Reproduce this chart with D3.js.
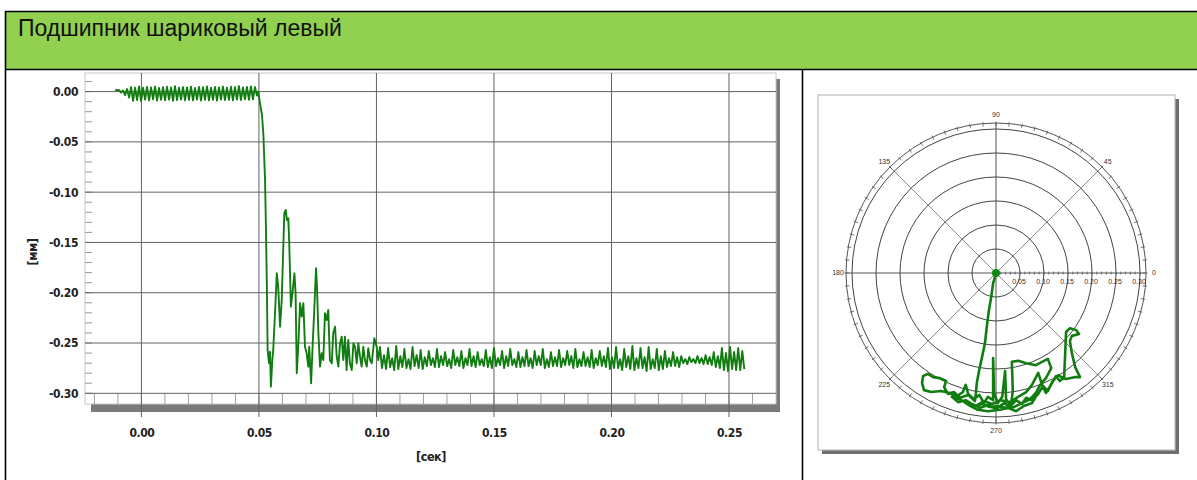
<!DOCTYPE html>
<html>
<head>
<meta charset="utf-8">
<script src="https://cdn.jsdelivr.net/npm/d3@7"></script>
<style>
  body { margin: 0; background: #fff; }
  svg { display: block; }
  .narrow { font-family: "Liberation Sans Narrow", "DejaVu Sans Condensed", "Liberation Sans", sans-serif; font-weight: bold; fill: #222; letter-spacing: -0.4px; }
</style>
</head>
<body>
<svg id="chart" width="1197" height="480"></svg>
<script>
// ---- Title ----
const titleText = "Подшипник шариковый левый";

// ---- Time-domain plot: displacement [мм] vs time [сек] ----
const xTickValues = [0, 0.05, 0.10, 0.15, 0.20, 0.25];
const yTickValues = [0, -0.05, -0.10, -0.15, -0.20, -0.25, -0.30];
const xAxisTitle = "[сек]";
const yAxisTitle = "[мм]";

// idle ripple before the drop (uniform step)
const rippleStart = -0.0112;
const rippleStep = 0.00085;
const rippleValues = [
  0.0020, 0.0012, 0.0016, -0.0010, 0.0012, -0.0035, 0.0025, -0.0060,
  0.0045, -0.0092, 0.0040, -0.0085, 0.0052, -0.0095, 0.0038, -0.0080,
  0.0046, -0.0088, 0.0042, -0.0078, 0.0050, -0.0090, 0.0036, -0.0082,
  0.0044, -0.0086, 0.0048, -0.0079, 0.0040, -0.0091, 0.0053, -0.0084,
  0.0039, -0.0080, 0.0045, -0.0088, 0.0041, -0.0083, 0.0049, -0.0087,
  0.0037, -0.0079, 0.0046, -0.0090, 0.0043, -0.0082, 0.0051, -0.0086,
  0.0038, -0.0081, 0.0047, -0.0089, 0.0042, -0.0080, 0.0050, -0.0085,
  0.0040, -0.0083, 0.0048, -0.0087, 0.0044, -0.0080, 0.0055, -0.0084,
  0.0041, -0.0078, 0.0046, -0.0082, 0.0052, -0.0076, 0.0045, -0.0040
];

// drop and settling transient (irregular samples)
const transientTimes = [
  0.0497, 0.0505, 0.0513, 0.0519, 0.0526, 0.0530, 0.0534, 0.0537, 0.0543, 0.0547,
  0.0551, 0.0557, 0.0561, 0.0571, 0.0576, 0.0582, 0.0590, 0.0597, 0.0608, 0.0614,
  0.0619, 0.0625, 0.0629, 0.0636, 0.0644, 0.0651, 0.0656, 0.0661, 0.0668, 0.0675,
  0.0682, 0.0689, 0.0696, 0.0703, 0.0710, 0.0714, 0.0722, 0.0729, 0.0736, 0.0743,
  0.0747, 0.0753, 0.0760, 0.0767, 0.0774, 0.0781, 0.0788, 0.0795, 0.0802, 0.0810,
  0.0816, 0.0824, 0.0831, 0.0838, 0.0845, 0.0852, 0.0859, 0.0866, 0.0873, 0.0880,
  0.0887, 0.0895, 0.0902, 0.0909, 0.0916, 0.0923, 0.0930, 0.0937, 0.0944, 0.0951,
  0.0959, 0.0965, 0.0973, 0.0980, 0.0991, 0.1001, 0.1008
];
const transientValues = [
  0.0000, -0.0123, -0.0233, -0.0432, -0.0879, -0.1376, -0.1973, -0.2570, -0.2699, -0.2586,
  -0.2934, -0.2669, -0.2569, -0.2072, -0.1807, -0.1940, -0.2338, -0.2072, -0.1210, -0.1177,
  -0.1277, -0.1260, -0.1505, -0.2139, -0.1973, -0.1807, -0.2003, -0.2801, -0.2503, -0.2105,
  -0.2238, -0.2105, -0.2537, -0.2602, -0.2735, -0.2537, -0.2900, -0.2503, -0.2139, -0.1757,
  -0.1940, -0.2403, -0.2735, -0.2602, -0.2669, -0.2204, -0.2271, -0.2172, -0.2669, -0.2702,
  -0.2403, -0.2338, -0.2636, -0.2735, -0.2503, -0.2437, -0.2669, -0.2437, -0.2768, -0.2470,
  -0.2702, -0.2768, -0.2503, -0.2537, -0.2702, -0.2503, -0.2636, -0.2735, -0.2537, -0.2669,
  -0.2735, -0.2552, -0.2669, -0.2702, -0.2453, -0.2537, -0.2669
];

// steady tail (uniform step)
const tailStart = 0.1015;
const tailStep = 0.000866;
const tailValues = [
  -0.254, -0.275, -0.262, -0.276,  -0.255, -0.274, -0.265, -0.277,
  -0.253, -0.276, -0.263, -0.274,  -0.256, -0.275, -0.266, -0.276,
  -0.254, -0.273, -0.262, -0.275,  -0.257, -0.276, -0.264, -0.273,
  -0.258, -0.272, -0.265, -0.274,  -0.256, -0.274, -0.263, -0.272,
  -0.259, -0.273, -0.266, -0.275,  -0.257, -0.272, -0.264, -0.273,
  -0.258, -0.275, -0.265, -0.272,  -0.256, -0.273, -0.263, -0.274,
  -0.259, -0.272, -0.266, -0.273,  -0.257, -0.274, -0.264, -0.275,
  -0.255, -0.273, -0.265, -0.272,  -0.258, -0.275, -0.263, -0.273,
  -0.256, -0.272, -0.266, -0.274,  -0.259, -0.274, -0.264, -0.273,
  -0.257, -0.273, -0.265, -0.275,  -0.258, -0.272, -0.263, -0.272,
  -0.256, -0.275, -0.266, -0.274,  -0.259, -0.273, -0.264, -0.273,
  -0.257, -0.274, -0.265, -0.272,  -0.258, -0.272, -0.263, -0.275,
  -0.256, -0.274, -0.266, -0.273,  -0.259, -0.273, -0.264, -0.274,
  -0.257, -0.275, -0.265, -0.272,  -0.258, -0.273, -0.263, -0.274,
  -0.255, -0.276, -0.264, -0.275,  -0.254, -0.275, -0.266, -0.277,
  -0.256, -0.274, -0.263, -0.276,  -0.253, -0.277, -0.265, -0.275,
  -0.255, -0.275, -0.264, -0.278,  -0.254, -0.276, -0.266, -0.275,
  -0.256, -0.277, -0.263, -0.276,  -0.258, -0.274, -0.265, -0.273,
  -0.259, -0.273, -0.264, -0.274,  -0.263, -0.270, -0.266, -0.271,
  -0.264, -0.269, -0.266, -0.270,  -0.263, -0.270, -0.265, -0.271,
  -0.262, -0.271, -0.264, -0.272,  -0.259, -0.274, -0.263, -0.275,
  -0.255, -0.277, -0.260, -0.278,  -0.254, -0.276, -0.259, -0.277,
  -0.255, -0.277, -0.258, -0.276
];

// ---- Orbit (polar) plot: shaft centre path, X/Y in мм ----
const ringValues = [0.05, 0.10, 0.15, 0.20, 0.25, 0.30];
const ringLabels = ["0.05", "0.10", "0.15", "0.20", "0.25", "0.30"];
const spokeAngles = [0, 45, 90, 135, 180, 225, 270, 315];
const orbitX = [
  0.000, -0.002, -0.006, -0.010, -0.015, -0.019, -0.023, -0.029, -0.035, -0.040,
  -0.042, -0.044, -0.058, -0.075, -0.088, -0.100, -0.108, -0.104, -0.117, -0.131,
  -0.142, -0.152, -0.154, -0.150, -0.135, -0.115, -0.096, -0.083, -0.069, -0.063,
  -0.058, -0.046, -0.035, -0.025, -0.017, -0.006, -0.006, -0.004, 0.004, 0.013,
  0.019, 0.021, 0.031, 0.035, 0.033, 0.046, 0.063, 0.083, 0.100, 0.108,
  0.115, 0.104, 0.092, 0.083, 0.071, 0.054, 0.038, 0.021, 0.004, -0.013,
  -0.029, -0.042, -0.025, -0.008, 0.010, 0.029, 0.046, 0.063, 0.075, 0.088,
  0.096, 0.104, 0.117, 0.125, 0.133, 0.142, 0.146, 0.154, 0.167, 0.173,
  0.158, 0.154, 0.158, 0.165, 0.175, 0.163, 0.146, 0.129, 0.117, 0.108,
  0.098, 0.088, 0.075, 0.063, 0.054, 0.042, 0.029, 0.017, 0.000, -0.017,
  -0.033, -0.050, -0.063, -0.079, -0.092, -0.075, -0.054, -0.038, -0.017, 0.008,
  0.025, 0.042, 0.058, 0.075, 0.083
];
const orbitY = [
  0.000, -0.008, -0.021, -0.050, -0.079, -0.110, -0.146, -0.175, -0.202, -0.229,
  -0.252, -0.267, -0.254, -0.260, -0.248, -0.252, -0.238, -0.225, -0.219, -0.217,
  -0.210, -0.215, -0.229, -0.244, -0.248, -0.246, -0.250, -0.258, -0.248, -0.233,
  -0.252, -0.263, -0.254, -0.271, -0.258, -0.265, -0.177, -0.250, -0.271, -0.258,
  -0.204, -0.263, -0.277, -0.246, -0.185, -0.183, -0.188, -0.192, -0.183, -0.179,
  -0.198, -0.219, -0.233, -0.250, -0.263, -0.271, -0.279, -0.281, -0.277, -0.279,
  -0.273, -0.277, -0.267, -0.273, -0.265, -0.269, -0.258, -0.248, -0.233, -0.208,
  -0.233, -0.250, -0.229, -0.215, -0.225, -0.217, -0.123, -0.115, -0.119, -0.127,
  -0.131, -0.142, -0.167, -0.196, -0.217, -0.217, -0.221, -0.213, -0.227, -0.246,
  -0.235, -0.252, -0.265, -0.260, -0.273, -0.265, -0.279, -0.271, -0.283, -0.275,
  -0.281, -0.273, -0.265, -0.269, -0.258, -0.263, -0.277, -0.285, -0.288, -0.285,
  -0.281, -0.288, -0.277, -0.271, -0.258
];

const svg = d3.select("#chart");
const lineGreen = "#117d11";

// ---- Page frame & header ----
svg.append("rect").attr("x", 6).attr("y", 12).attr("width", 1191).attr("height", 57).attr("fill", "#92d050");
svg.append("text").attr("x", 18).attr("y", 35.5)
  .attr("font-family", "'Liberation Sans', Arial, sans-serif").attr("font-size", 23).attr("fill", "#111")
  .text(titleText);
const frame = svg.append("g").attr("stroke", "#000").attr("stroke-width", 1.6);
frame.append("line").attr("x1", 5).attr("x2", 1197).attr("y1", 11.5).attr("y2", 11.5);
frame.append("line").attr("x1", 5.5).attr("x2", 5.5).attr("y1", 11).attr("y2", 480);
frame.append("line").attr("x1", 5).attr("x2", 1197).attr("y1", 69.5).attr("y2", 69.5);
frame.append("line").attr("x1", 802.5).attr("x2", 802.5).attr("y1", 69.5).attr("y2", 480);

// ---- Time-domain plot ----
const box = { left: 85, right: 776, top: 73, bottom: 404 };
const x = d3.scaleLinear().domain([-0.024, 0.270]).range([box.left, box.right]);
const y = d3.scaleLinear().domain([-0.30, 0]).range([393.3, 91.6]);
const g = svg.append("g");

// shadow and panel
g.append("rect").attr("x", box.left + 6).attr("y", box.top + 6)
  .attr("width", box.right - box.left - 2).attr("height", box.bottom - box.top + 2).attr("fill", "#7a7a7a");
g.append("rect").attr("x", box.left).attr("y", box.top)
  .attr("width", box.right - box.left).attr("height", box.bottom - box.top)
  .attr("fill", "#fff").attr("stroke", "#c8c8c8").attr("stroke-width", 1);

// minor ticks: left edge and bottom strip
const yMinor = d3.range(1, -31, -1).map(v => v / 100);
g.append("g").selectAll("line").data(yMinor).join("line")
  .attr("x1", box.left).attr("x2", box.left + 7)
  .attr("y1", d => y(d)).attr("y2", d => y(d))
  .attr("stroke", "#9a9a9a").attr("stroke-width", 1);
const xMinor = d3.range(-2, 27).map(v => v / 100);
g.append("g").selectAll("line").data(xMinor).join("line")
  .attr("x1", d => x(d)).attr("x2", d => x(d))
  .attr("y1", y(-0.30)).attr("y2", box.bottom)
  .attr("stroke", "#a0a0a0").attr("stroke-width", 1);

// grid
g.append("g").selectAll("line").data(yTickValues).join("line")
  .attr("x1", box.left).attr("x2", box.right)
  .attr("y1", d => y(d)).attr("y2", d => y(d))
  .attr("stroke", "#626262").attr("stroke-width", 1);
g.append("g").selectAll("line").data(xTickValues).join("line")
  .attr("x1", d => x(d)).attr("x2", d => x(d))
  .attr("y1", box.top).attr("y2", box.bottom + 13)
  .attr("stroke", "#626262").attr("stroke-width", 1);

// axes labels
const yAxis = g.append("g").attr("transform", `translate(${box.left},0)`)
  .call(d3.axisLeft(y).tickValues(yTickValues).tickSize(0).tickPadding(7).tickFormat(d => d.toFixed(2)));
const xAxis = g.append("g").attr("transform", `translate(0,${box.bottom})`)
  .call(d3.axisBottom(x).tickValues(xTickValues).tickSize(0).tickPadding(24).tickFormat(d => d.toFixed(2)));
[yAxis, xAxis].forEach(a => {
  a.select(".domain").remove();
  a.selectAll("text").attr("class", "narrow").attr("font-size", 12).attr("fill", "#222");
});
g.append("text").attr("class", "narrow").attr("x", 431).attr("y", 461)
  .attr("text-anchor", "middle").attr("font-size", 12.5).text(xAxisTitle);
g.append("text").attr("class", "narrow").attr("transform", "translate(37,252) rotate(-90)")
  .attr("text-anchor", "middle").attr("font-size", 12.5).text(yAxisTitle);

// signal
const signal = []
  .concat(rippleValues.map((v, i) => [rippleStart + i * rippleStep, v]))
  .concat(transientValues.map((v, i) => [transientTimes[i], v]))
  .concat(tailValues.map((v, i) => [tailStart + i * tailStep, v]));
g.append("path").datum(signal)
  .attr("d", d3.line().x(d => x(d[0])).y(d => y(d[1])))
  .attr("fill", "none").attr("stroke", lineGreen).attr("stroke-width", 1.9)
  .attr("stroke-linejoin", "round");

// ---- Orbit plot ----
const cx = 996, cy = 273;
const pbox = { left: 818, right: 1175, top: 95, bottom: 450 };
const p = svg.append("g");
p.append("rect").attr("x", pbox.left + 4).attr("y", pbox.top + 4)
  .attr("width", pbox.right - pbox.left).attr("height", pbox.bottom - pbox.top).attr("fill", "#6e6e6e");
p.append("rect").attr("x", pbox.left).attr("y", pbox.top)
  .attr("width", pbox.right - pbox.left).attr("height", pbox.bottom - pbox.top)
  .attr("fill", "#fff").attr("stroke", "#bdbdbd").attr("stroke-width", 1.2);

const r = d3.scaleLinear().domain([0, 0.30]).range([0, 144]);
const outerR = 150, labelR = 158;
const ox = d3.scaleLinear().domain([-0.30, 0.30]).range([cx - r(0.30), cx + r(0.30)]);
const oy = d3.scaleLinear().domain([-0.30, 0.30]).range([cy + r(0.30), cy - r(0.30)]);
const rad = a => a * Math.PI / 180;

// spokes
p.append("g").selectAll("line").data(spokeAngles).join("line")
  .attr("x1", cx).attr("y1", cy)
  .attr("x2", d => cx + outerR * Math.cos(rad(d)))
  .attr("y2", d => cy - outerR * Math.sin(rad(d)))
  .attr("stroke", d => d % 90 === 0 ? "#555" : "#8a8a8a").attr("stroke-width", 1);
// rings
p.append("g").selectAll("circle").data(ringValues).join("circle")
  .attr("cx", cx).attr("cy", cy).attr("r", d => r(d))
  .attr("fill", "none").attr("stroke", "#444").attr("stroke-width", 1);
// outer degree ring with ticks
p.append("circle").attr("cx", cx).attr("cy", cy).attr("r", outerR)
  .attr("fill", "none").attr("stroke", "#555").attr("stroke-width", 1);
p.append("g").selectAll("line").data(d3.range(0, 360, 5)).join("line")
  .attr("x1", d => cx + (outerR - 3) * Math.cos(rad(d)))
  .attr("y1", d => cy - (outerR - 3) * Math.sin(rad(d)))
  .attr("x2", d => cx + (outerR + 1.5) * Math.cos(rad(d)))
  .attr("y2", d => cy - (outerR + 1.5) * Math.sin(rad(d)))
  .attr("stroke", "#555").attr("stroke-width", 0.8);
// radial scale ticks along the 0° axis
p.append("g").selectAll("line").data(d3.range(1, 31).map(v => v / 100)).join("line")
  .attr("x1", d => cx + r(d)).attr("x2", d => cx + r(d))
  .attr("y1", cy - 1.5).attr("y2", cy + 1.5)
  .attr("stroke", "#555").attr("stroke-width", 0.8);
// labels
p.append("g").selectAll("text").data(ringValues).join("text")
  .attr("x", d => cx + r(d) - 1).attr("y", cy + 10.5)
  .attr("text-anchor", "middle").attr("font-size", 7)
  .attr("font-family", "'Liberation Sans', Arial, sans-serif").attr("fill", "#333")
  .text((d, i) => ringLabels[i]);
p.append("g").selectAll("text").data(spokeAngles).join("text")
  .attr("x", d => cx + labelR * Math.cos(rad(d)))
  .attr("y", d => cy - labelR * Math.sin(rad(d)))
  .attr("dy", "0.35em").attr("text-anchor", "middle").attr("font-size", 7)
  .attr("font-family", "'Liberation Sans', Arial, sans-serif").attr("fill", "#333")
  .text(d => String(d));

// orbit trace
const orbit = orbitX.map((v, i) => [v, orbitY[i]]);
p.append("path").datum(orbit)
  .attr("d", d3.line().x(d => ox(d[0])).y(d => oy(d[1])))
  .attr("fill", "none").attr("stroke", lineGreen).attr("stroke-width", 2.6)
  .attr("stroke-linejoin", "round");
p.append("circle").attr("cx", ox(orbit[0][0])).attr("cy", oy(orbit[0][1])).attr("r", 4).attr("fill", "#0f8a0f");
</script>
</body>
</html>
